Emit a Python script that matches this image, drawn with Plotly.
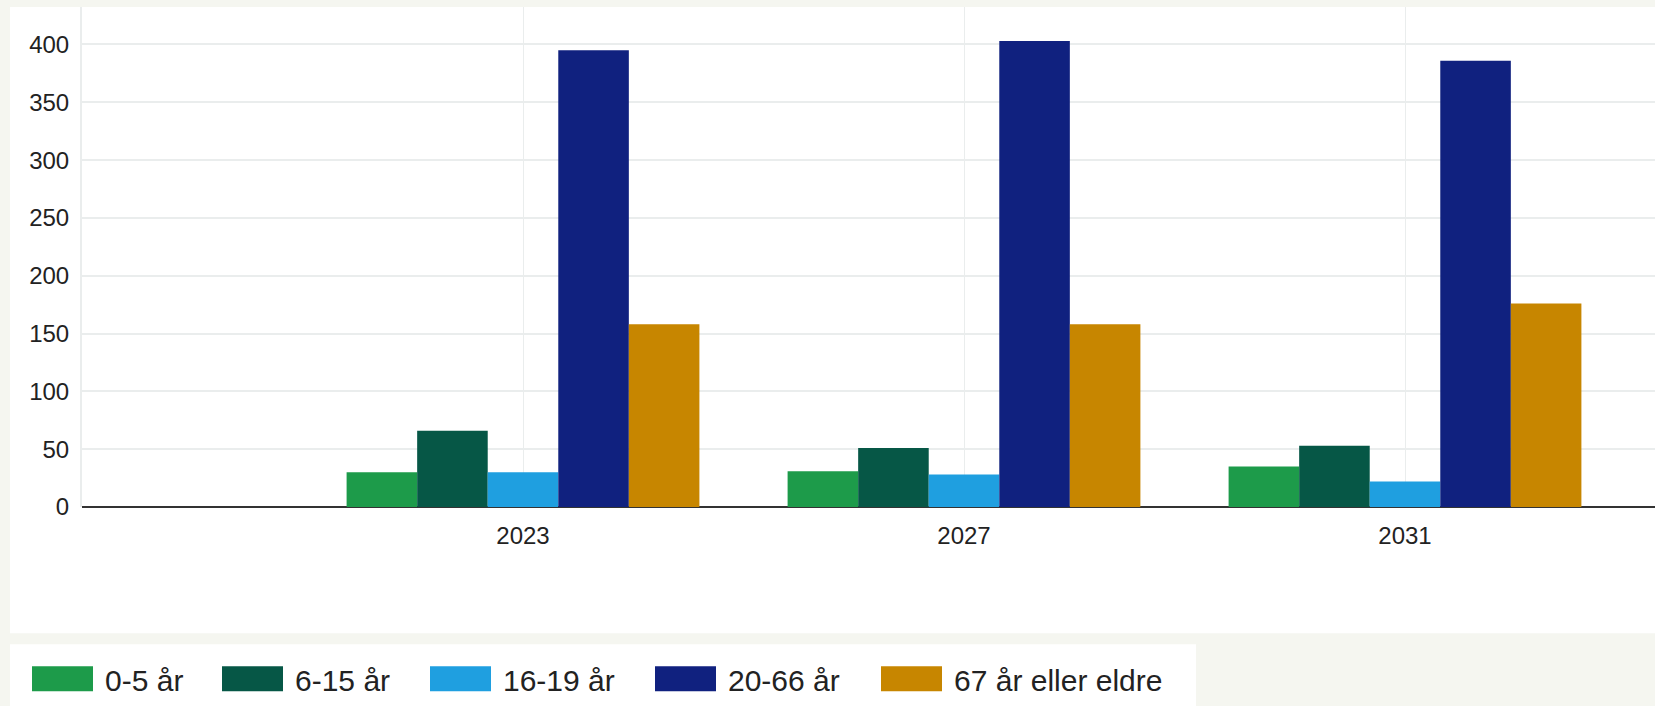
import plotly.graph_objects as go

years = [2023, 2027, 2031]
ages = ["0-5 år", "6-15 år", "16-19 år", "20-66 år", "67 år eller eldre"]
v_0_5 = [30, 31, 35]
v_6_15 = [66, 51, 53]
v_16_19 = [30, 28, 22]
v_20_66 = [395, 403, 386]
v_67 = [158, 158, 176]
series = [v_0_5, v_6_15, v_16_19, v_20_66, v_67]
colors = ["#1d9b4a", "#065746", "#1f9fe0", "#10217f", "#c78600"]

W, H = 1655, 706
L, R, T, B = 82, 0, 7, 198.5
PW = W - L - R
PH = H - T - B
BG = "#f5f6f0"


def px(x):
    return (x - L) / PW


def py(y):
    return (H - B - y) / PH


FONT = "Arial, 'Liberation Sans', sans-serif"

fig = go.Figure()
for name, vals, col in zip(ages, series, colors):
    fig.add_trace(go.Bar(x=years, y=vals, name=name, marker=dict(color=col, line=dict(width=0)),
                         showlegend=False))

shapes = [
    dict(type="rect", xref="paper", yref="paper", x0=px(10), x1=px(W + 5), y0=py(634), y1=py(7),
         fillcolor="white", line=dict(width=0), layer="below"),
    dict(type="rect", xref="paper", yref="paper", x0=px(10), x1=px(1196), y0=py(645), y1=py(H + 5),
         fillcolor="white", line=dict(width=0), layer="below"),
]
annotations = []
leg_x = [32, 222, 430, 655, 881]
for x0, name, col in zip(leg_x, ages, colors):
    shapes.append(dict(type="rect", xref="paper", yref="paper", x0=px(x0), x1=px(x0 + 61),
                       y0=py(692), y1=py(667), fillcolor=col, line=dict(width=0)))
    annotations.append(dict(xref="paper", yref="paper", x=px(x0 + 71), y=py(681), text=name,
                            showarrow=False, xanchor="left", yanchor="middle",
                            font=dict(family=FONT, size=30, color="#222222")))

fig.update_layout(
    width=W, height=H,
    margin=dict(l=L, r=R, t=T, b=B, pad=0),
    paper_bgcolor=BG,
    plot_bgcolor="white",
    barmode="group", bargap=0.2, bargroupgap=0,
    font=dict(family=FONT, size=24, color="#222222"),
    shapes=shapes, annotations=annotations,
    showlegend=False,
    xaxis=dict(range=[2019, 2019 + PW / 110.25], tickvals=years, ticktext=[str(y) for y in years],
               showgrid=True, gridcolor="#eaeded", gridwidth=1, zeroline=False,
               ticks="outside", ticklen=7, tickcolor="rgba(0,0,0,0)",
               tickfont=dict(family=FONT, size=24, color="#222222"), fixedrange=True),
    yaxis=dict(range=[0, (H - B - T) / 1.1575], tickvals=[0, 50, 100, 150, 200, 250, 300, 350, 400],
               showgrid=True, gridcolor="#eaeded", gridwidth=2,
               zeroline=True, zerolinecolor="#333333", zerolinewidth=2,
               showline=True, linecolor="#eaeded", linewidth=2,
               ticks="outside", ticklen=6, tickcolor="rgba(0,0,0,0)",
               tickfont=dict(family=FONT, size=24, color="#222222"), fixedrange=True),
)

post = ("document.body.style.margin='0';document.body.style.padding='0';"
        "document.body.style.overflow='hidden';document.body.style.background='" + BG + "';"
        "document.documentElement.style.overflow='hidden';")
fig.write_html("out.html", post_script=post, config={"displayModeBar": False})
